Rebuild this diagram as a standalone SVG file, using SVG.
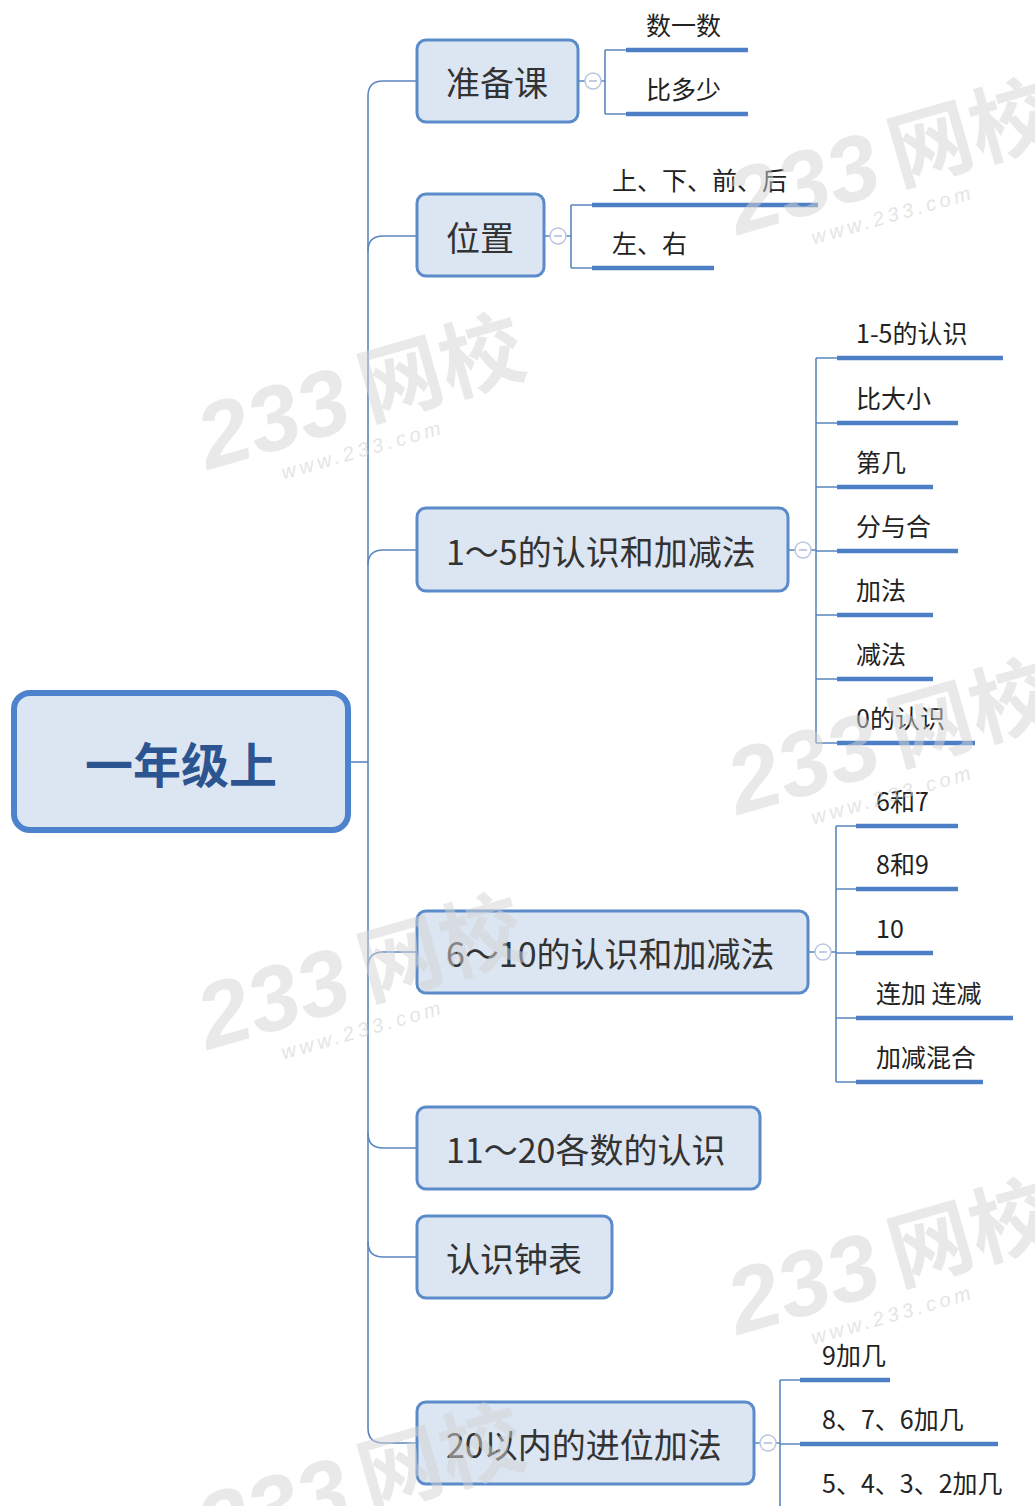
<svg xmlns="http://www.w3.org/2000/svg" width="1035" height="1506" viewBox="0 0 1035 1506">
<defs>
<style>
.cn{font-family:"Noto Sans CJK SC","Noto Sans",sans-serif}
.root{fill:#dce6f3;stroke:#4d82cc;stroke-width:6}
.rt{font-size:48px;font-weight:bold;fill:#2c5490}
.n1{fill:#dce6f3;stroke:#5b8bc9;stroke-width:3}
.t1{font-size:34px;fill:#333}
.lf{font-size:25px;fill:#222}
.ul{stroke:#4d7fc6;stroke-width:4.5;fill:none}
.ln{stroke:#5b86bf;stroke-width:1.6;fill:none}
.col{fill:#fff;stroke:#b8c6e0;stroke-width:1.5}
.colm{stroke:#b0bcd6;stroke-width:1.5}
.wm{font-family:"Liberation Sans",sans-serif;font-weight:bold;font-style:italic;fill:#d4d4d4;opacity:0.5}
.wmc{font-family:"Noto Sans CJK SC",sans-serif;font-weight:bold;fill:#d4d4d4;opacity:0.5}
.wms{font-family:"Liberation Sans",sans-serif;font-style:italic;fill:#d4d4d4;opacity:0.6;letter-spacing:4px}
</style>
</defs>
<rect width="1035" height="1506" fill="#fff"/>

<g id="connectors">
  <path class="ln" d="M348 762 H368"/>
  <path class="ln" d="M417 81 H383 Q368 81 368 96 V1428 Q368 1443 383 1443 H417"/>
  <path class="ln" d="M417 236 H383 Q368 236 368 251"/>
  <path class="ln" d="M417 550 H383 Q368 550 368 565"/>
  <path class="ln" d="M417 952 H383 Q368 952 368 967"/>
  <path class="ln" d="M417 1148 H383 Q368 1148 368 1133"/>
  <path class="ln" d="M417 1257 H383 Q368 1257 368 1242"/>
  <path class="ln" d="M578 81 H605 M605 50 V114 M605 50 H626 M605 114 H626"/>
  <path class="ln" d="M544 236 H571 M571 205 V268 M571 205 H592 M571 268 H592"/>
  <path class="ln" d="M788 550 H816 M816 358 V743 M816 358 H837 M816 423 H837 M816 487 H837 M816 551 H837 M816 615 H837 M816 679 H837 M816 743 H837"/>
  <path class="ln" d="M808 952 H836 M836 826 V1082 M836 826 H856 M836 889 H856 M836 953 H856 M836 1018 H856 M836 1082 H856"/>
  <path class="ln" d="M754 1443 H780 M780 1380 V1506 M780 1380 H800 M780 1444 H800"/>
</g>

<g id="root">
  <rect class="root" x="14" y="693" width="334" height="137" rx="16"/>
  <text class="cn rt" x="181" y="762" text-anchor="middle" dominant-baseline="central">一年级上</text>
</g>

<g id="n-zhunbeike">
  <rect class="n1" x="417" y="40" width="161" height="82" rx="9"/>
  <text class="cn t1" x="446" y="81" dominant-baseline="central">准备课</text>
  <circle class="col" cx="593" cy="81" r="8"/><path class="colm" d="M589 81 H597"/>
</g>
<g id="l-shuyishu"><text class="cn lf" x="646" y="24" dominant-baseline="central">数一数</text><path class="ul" d="M626 50 H748"/></g>
<g id="l-biduoshao"><text class="cn lf" x="646" y="88" dominant-baseline="central">比多少</text><path class="ul" d="M626 114 H748"/></g>

<g id="n-weizhi">
  <rect class="n1" x="417" y="194" width="127" height="82" rx="9"/>
  <text class="cn t1" x="446" y="236" dominant-baseline="central">位置</text>
  <circle class="col" cx="558" cy="236" r="8"/><path class="colm" d="M554 236 H562"/>
</g>
<g id="l-shangxia"><text class="cn lf" x="612" y="179" dominant-baseline="central">上、下、前、后</text><path class="ul" d="M592 205 H818"/></g>
<g id="l-zuoyou"><text class="cn lf" x="612" y="242" dominant-baseline="central">左、右</text><path class="ul" d="M592 268 H714"/></g>

<g id="n-1to5">
  <rect class="n1" x="417" y="508" width="371" height="83" rx="9"/>
  <text class="cn t1" x="446" y="550" dominant-baseline="central">1～5的认识和加减法</text>
  <circle class="col" cx="803" cy="550" r="8"/><path class="colm" d="M799 550 H807"/>
</g>
<g id="l-15renshi"><text class="cn lf" x="856" y="332" dominant-baseline="central">1-5的认识</text><path class="ul" d="M837 358 H1003"/></g>
<g id="l-bidaxiao"><text class="cn lf" x="856" y="397" dominant-baseline="central">比大小</text><path class="ul" d="M837 423 H958"/></g>
<g id="l-diji"><text class="cn lf" x="856" y="461" dominant-baseline="central">第几</text><path class="ul" d="M837 487 H933"/></g>
<g id="l-fenyuhe"><text class="cn lf" x="856" y="525" dominant-baseline="central">分与合</text><path class="ul" d="M837 551 H958"/></g>
<g id="l-jiafa"><text class="cn lf" x="856" y="589" dominant-baseline="central">加法</text><path class="ul" d="M837 615 H933"/></g>
<g id="l-jianfa"><text class="cn lf" x="856" y="653" dominant-baseline="central">减法</text><path class="ul" d="M837 679 H933"/></g>
<g id="l-0renshi"><text class="cn lf" x="856" y="717" dominant-baseline="central">0的认识</text><path class="ul" d="M837 743 H975"/></g>

<g id="n-6to10">
  <rect class="n1" x="417" y="911" width="391" height="82" rx="9"/>
  <text class="cn t1" x="446" y="952" dominant-baseline="central">6～10的认识和加减法</text>
  <circle class="col" cx="823" cy="952" r="8"/><path class="colm" d="M819 952 H827"/>
</g>
<g id="l-6he7"><text class="cn lf" x="876" y="800" dominant-baseline="central">6和7</text><path class="ul" d="M856 826 H958"/></g>
<g id="l-8he9"><text class="cn lf" x="876" y="863" dominant-baseline="central">8和9</text><path class="ul" d="M856 889 H958"/></g>
<g id="l-10"><text class="cn lf" x="876" y="927" dominant-baseline="central">10</text><path class="ul" d="M856 953 H933"/></g>
<g id="l-lianjia"><text class="cn lf" x="876" y="992" dominant-baseline="central">连加 连减</text><path class="ul" d="M856 1018 H1013"/></g>
<g id="l-jiajianhunhe"><text class="cn lf" x="876" y="1056" dominant-baseline="central">加减混合</text><path class="ul" d="M856 1082 H983"/></g>

<g id="n-11to20">
  <rect class="n1" x="417" y="1107" width="343" height="82" rx="9"/>
  <text class="cn t1" x="446" y="1148" dominant-baseline="central">11～20各数的认识</text>
</g>

<g id="n-zhongbiao">
  <rect class="n1" x="417" y="1216" width="195" height="82" rx="9"/>
  <text class="cn t1" x="446" y="1257" dominant-baseline="central">认识钟表</text>
</g>

<g id="n-jinwei">
  <rect class="n1" x="417" y="1402" width="337" height="82" rx="9"/>
  <text class="cn t1" x="446" y="1443" dominant-baseline="central">20以内的进位加法</text>
  <circle class="col" cx="768" cy="1443" r="8"/><path class="colm" d="M764 1443 H772"/>
</g>
<g id="l-9jiaji"><text class="cn lf" x="822" y="1354" dominant-baseline="central">9加几</text><path class="ul" d="M800 1380 H890"/></g>
<g id="l-876jiaji"><text class="cn lf" x="822" y="1418" dominant-baseline="central">8、7、6加几</text><path class="ul" d="M800 1444 H998"/></g>
<g id="l-5432jiaji"><text class="cn lf" x="822" y="1482" dominant-baseline="central">5、4、3、2加几</text></g>

<g id="watermarks">
  <g transform="translate(208 470) rotate(-16)"><text class="wm" font-size="92" x="0" y="0">233</text><text class="wmc" font-size="84" x="168" y="-4">网校</text><text class="wms" font-size="20" x="70" y="30">www.233.com</text></g>
  <g transform="translate(738 235) rotate(-16)"><text class="wm" font-size="92" x="0" y="0">233</text><text class="wmc" font-size="84" x="168" y="-4">网校</text><text class="wms" font-size="20" x="70" y="30">www.233.com</text></g>
  <g transform="translate(738 815) rotate(-16)"><text class="wm" font-size="92" x="0" y="0">233</text><text class="wmc" font-size="84" x="168" y="-4">网校</text><text class="wms" font-size="20" x="70" y="30">www.233.com</text></g>
  <g transform="translate(208 1050) rotate(-16)"><text class="wm" font-size="92" x="0" y="0">233</text><text class="wmc" font-size="84" x="168" y="-4">网校</text><text class="wms" font-size="20" x="70" y="30">www.233.com</text></g>
  <g transform="translate(738 1335) rotate(-16)"><text class="wm" font-size="92" x="0" y="0">233</text><text class="wmc" font-size="84" x="168" y="-4">网校</text><text class="wms" font-size="20" x="70" y="30">www.233.com</text></g>
  <g transform="translate(208 1560) rotate(-16)"><text class="wm" font-size="92" x="0" y="0">233</text><text class="wmc" font-size="84" x="168" y="-4">网校</text></g>
</g>
</svg>
